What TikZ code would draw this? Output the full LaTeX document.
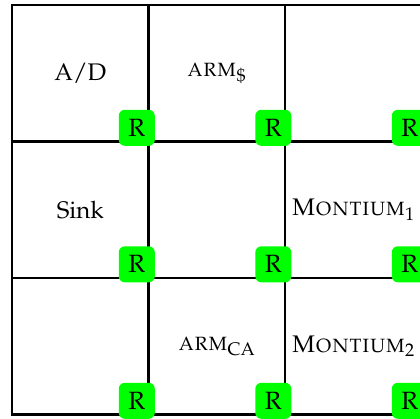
\documentclass[tikz,border=0pt]{standalone}
\usepackage[T1]{fontenc}
\usepackage{mathpazo}
\definecolor{rgreen}{RGB}{0,255,0}
\tikzset{
  cell/.style={draw=black, line width=2.6pt, minimum width=136.5pt, minimum height=136.5pt, inner sep=0pt, font=\fontsize{24}{28}\selectfont},
  rbox/.style={fill=rgreen, rounded corners=6pt, minimum width=36pt, minimum height=36pt, inner sep=0pt, font=\fontsize{25}{28}\selectfont, xshift=-13pt, yshift=15pt}
}
\begin{document}
\begin{tikzpicture}[x=1pt,y=-1pt]
\useasboundingbox (0,0) rectangle (420,419);
\clip (0,0) rectangle (420,419);
\fill[white] (0,0) rectangle (420,419);
% cells
\node[cell] (c11) at (80.25,73.25) {A/D};
\node[cell] (c12) at (216.75,73.25) {\textsc{arm}$_{\$}$};
\node[cell] (c13) at (353.25,73.25) {};
\node[cell] (c21) at (80.25,209.75) {Sink};
\node[cell] (c22) at (216.75,209.75) {};
\node[cell] (c23) at (353.25,209.75) {\textsc{Montium}$_1$};
\node[cell] (c31) at (80.25,346.25) {};
\node[cell] (c32) at (216.75,346.25) {\textsc{arm}$_{\mathrm{CA}}$};
\node[cell] (c33) at (353.25,346.25) {\textsc{Montium}$_2$};
% routers
\foreach \c in {c11,c12,c13,c21,c22,c23,c31,c32,c33}{
  \node[rbox] (r-\c) at (\c.south east) {R};
}
\end{tikzpicture}
\end{document}
